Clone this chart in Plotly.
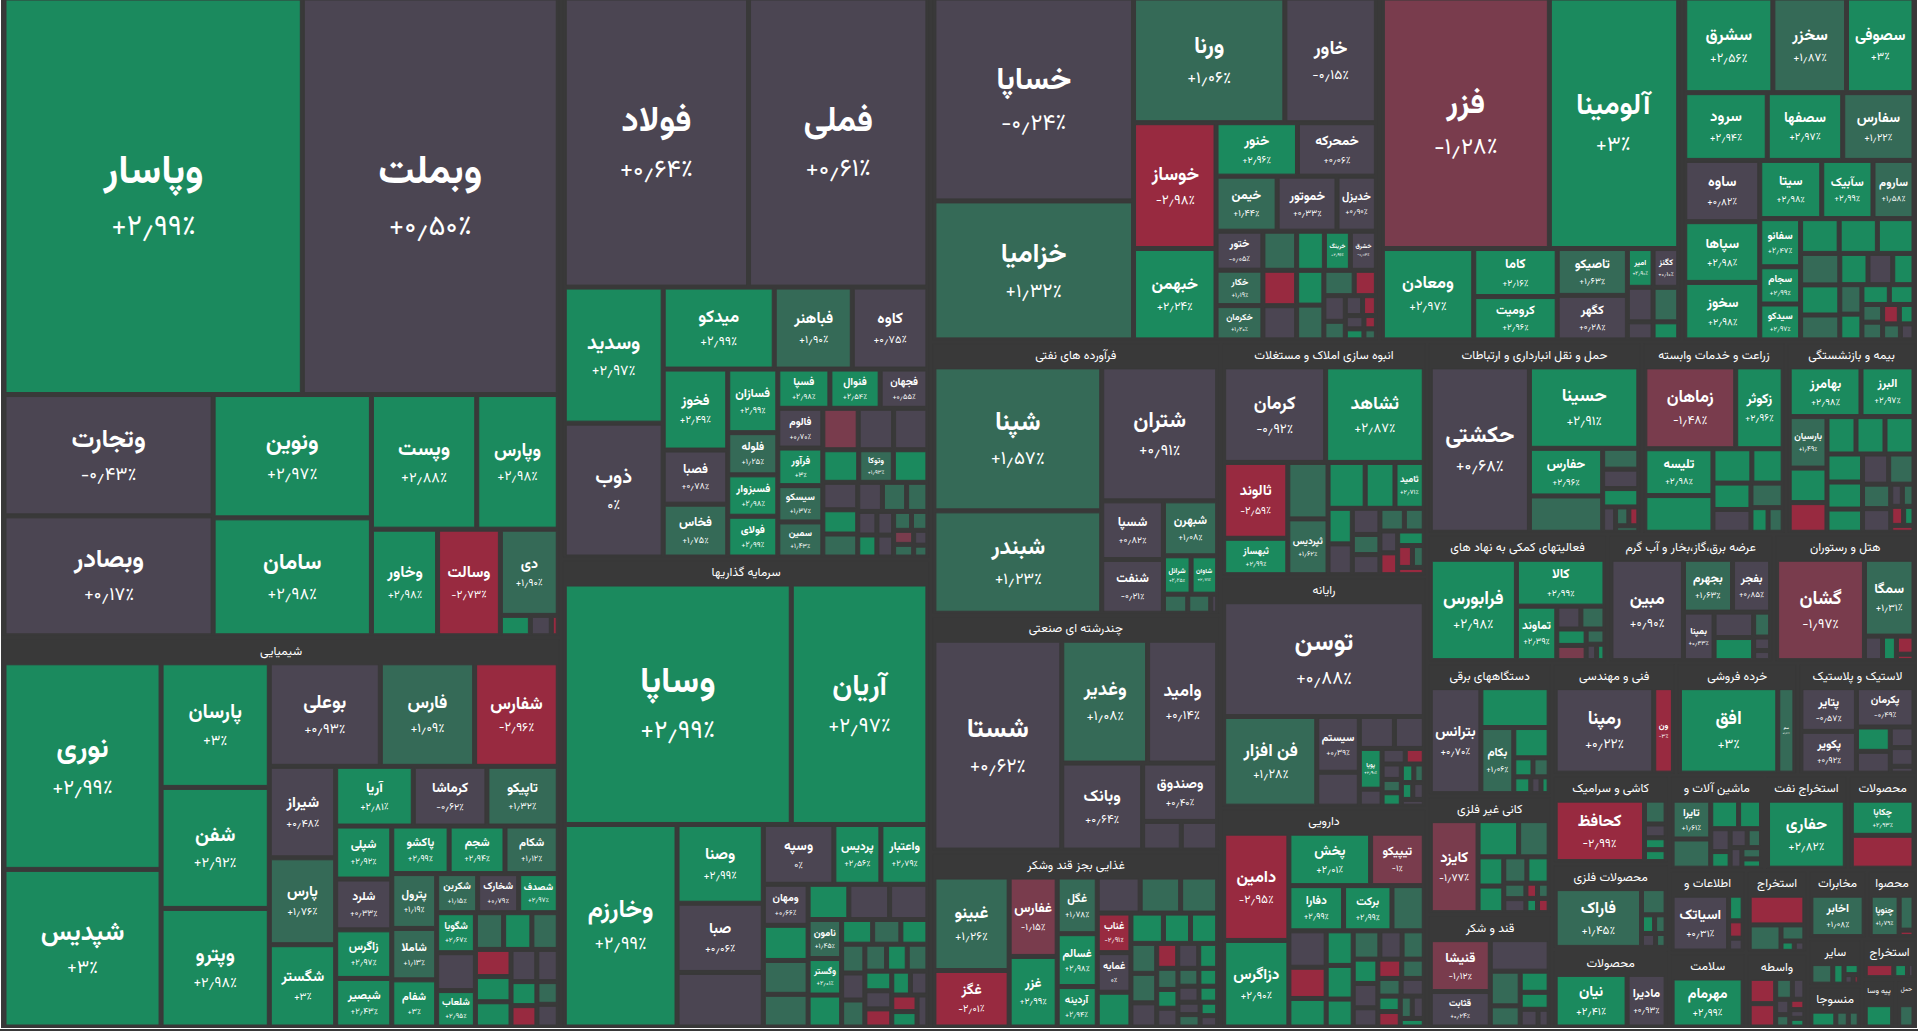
import math
import plotly.graph_objects as go

# colour classes for tiles whose name/percent is not readable (value estimated from colour)
G, MG, N, MR, R = 2.9, 1.5, 0.3, -1.5, -2.9

BANKS = [
    ("وپاسار", 830, 2.99), ("وبملت", 712, 0.50), ("وتجارت", 178, -0.43), ("وبصادر", 176, 0.17),
    ("ونوین", 137, 2.97), ("سامان", 131, 2.98), ("وپست", 99.5, 2.88), ("وپارس", 77, 2.98),
    ("وخاور", 49.5, 2.98), ("وسالت", 47, -2.73), ("دی", 35, 1.90),
    ("", 4.3, G), ("", 3.0, N), ("", 1.0, R),
]
CHEM = [
    ("نوری", 234.6, 2.99), ("شپدیس", 179, 3.00), ("پارسان", 97.5, 3.00), ("شفن", 94.7, 2.92), ("وپترو", 92.8, 2.98),
    ("بوعلی", 83.1, 0.93), ("فارس", 70.6, 1.09), ("شفارس", 62.6, -2.96), ("شیراز", 43.9, 0.48), ("پارس", 41.7, 1.76),
    ("شگستر", 39.5, 3.00), ("آریا", 33.5, 2.81), ("کرماشا", 31.8, -0.62), ("تاپیکو", 30.8, 1.32), ("شپلی", 21.5, 2.92),
    ("شلرد", 20.6, 0.33), ("زاگرس", 19.7, 2.97), ("شبصیر", 19.7, 2.43), ("پاکشو", 19.7, 2.99), ("شجم", 19.2, 2.94),
    ("شکام", 18.3, 1.12), ("پترول", 17.8, 1.19), ("شاملا", 16.7, 1.13), ("شفام", 15.3, 3.00), ("شکربن", 11.6, 1.15),
    ("شخارک", 11.6, 0.79), ("شصدف", 11.2, 2.97), ("شگویا", 11.2, 2.67), ("", 10.6, N), ("شلعاب", 10.2, 2.95),
    ("", 7.5, MG), ("", 7.5, G), ("", 7.0, MG), ("", 7.0, R), ("", 6.5, G), ("", 6.5, G),
    ("", 6.0, N), ("", 5.0, N), ("", 4.5, G), ("", 4.0, R), ("", 3.5, MG), ("", 3.5, N),
]
METALS = [
    ("فولاد", 378, 0.64), ("فملی", 368, 0.61), ("وسدید", 95.5, 2.97), ("ذوب", 94, 0.00), ("میدکو", 64.6, 2.99),
    ("فباهنر", 45.4, 1.90), ("کاوه", 44, 0.75), ("فخوز", 37.1, 2.49), ("فصبا", 24.8, 0.78), ("فخاس", 24.2, 1.75),
    ("فسازان", 22.6, 2.99), ("فلوله", 15, 1.25), ("فسبزوار", 14.7, 2.98), ("فولای", 14.5, 2.99), ("فسپا", 14.5, 2.98),
    ("فنوال", 14, 2.54), ("فجهان", 13.3, 0.55), ("فالوم", 12.7, 0.70), ("فرآور", 12, 3.00), ("سیسکو", 11.6, 1.37),
    ("سمین", 11.2, 1.43), ("", 10.4, MR), ("", 10.4, N), ("", 10.1, N), ("وتوکا", 8.0, 1.93), ("", 8.3, G), ("", 8.0, G),
    ("", 6.8, N), ("", 6.0, G), ("", 5.7, MG), ("", 5.1, N), ("", 5.0, MG), ("", 4.4, MG),
    ("", 3.2, N), ("", 3.0, G), ("", 2.8, N), ("", 2.6, N), ("", 2.4, MG), ("", 2.2, MG), ("", 2.0, MR),
    ("", 1.8, MG), ("", 1.5, N), ("", 1.2, MG),
]
INVEST = [
    ("وساپا", 392, 2.99), ("آریان", 236, 2.97), ("وخارزم", 164, 2.99), ("وصنا", 48.8, 2.99), ("صبا", 42.9, 0.06),
    ("", 33.8, N), ("وسپه", 30.3, 0.00), ("پردیس", 20.2, 2.56), ("واعتبار", 20.2, 2.79), ("ومهان", 13.2, 0.66),
    ("", 11.3, G), ("", 10.9, MG), ("", 10.5, MG), ("", 10.3, G), ("", 10.3, N), ("", 9.7, N), ("نامون", 9.4, 1.45),
    ("وگستر", 8.8, 2.01), ("", 7.7, G), ("", 5.5, G), ("", 4.8, G), ("", 4.8, MG), ("", 5.0, MG), ("", 4.5, N),
    ("", 4.5, MG), ("", 4.2, MG), ("", 4.0, G), ("", 4.0, MG), ("", 3.8, G), ("", 3.5, N), ("", 3.5, R), ("", 3.2, G),
    ("", 3.0, N), ("", 3.0, R), ("", 2.8, G), ("", 2.5, N),
]
AUTO = [
    ("خساپا", 295, -0.24), ("خزامیا", 202, 1.32), ("ورنا", 137.4, 1.06), ("خاور", 83.1, -0.15), ("خوساز", 75.6, -2.98),
    ("خبهمن", 54.9, 2.24), ("خنور", 31.7, 2.96), ("خمحرکه", 30.7, 0.06), ("خیمن", 24.5, 1.44), ("خموتور", 24, 0.33),
    ("خدیزل", 15.8, 0.90), ("ختور", 13.3, -0.05), ("خکار", 12.1, 1.19), ("خکرمان", 11.7, 1.20), ("", 9.6, MG),
    ("", 8.7, R), ("", 8.4, N), ("", 7.9, G), ("خرینگ", 7.4, 2.96), ("خشرق", 7.4, -0.04), ("", 6.9, G), ("", 6.9, MG),
    ("", 5.6, MG), ("", 4.1, R), ("", 4.0, N), ("", 2.9, MG), ("", 2.5, N), ("", 2.0, R), ("", 1.8, N), ("", 1.5, G),
    ("", 1.2, R), ("", 1.0, MG),
]
MINING = [
    ("فزر", 306.7, -1.28), ("آلومینا", 237.6, 3.00), ("ومعادن", 61.2, 2.97), ("کاما", 29.4, 2.16), ("کرومیت", 26.5, 2.96),
    ("تاصیکو", 24.1, 1.63), ("کگهر", 22.9, 0.28), ("امیر", 7.3, 2.90), ("کگنز", 7.3, 0.10), ("", 6.5, N), ("", 6.5, MG),
    ("", 3.4, N), ("", 3.4, G),
]
CEMENT = [
    ("سشرق", 61.5, 2.56), ("سخزر", 51.4, 1.87), ("سصوفی", 47.1, 3.00), ("سرود", 41.2, 2.94), ("سصفها", 37.7, 2.97),
    ("سفارس", 35.6, 1.22), ("ساوه", 33.9, 0.82), ("سپاها", 33.6, 2.98), ("سخوز", 31.8, 2.98), ("سیتا", 26.6, 2.98),
    ("سآبیک", 22.0, 2.99), ("ساروم", 17.6, 1.58), ("سفانو", 14.5, 2.47), ("سجام", 11.2, 2.99), ("سیدکو", 10.8, 2.97),
    ("", 9.9, G), ("", 9.8, G), ("", 9.4, G), ("", 9.1, MG), ("", 8.7, G), ("", 7.2, MG), ("", 6.5, G), ("", 5.7, N),
    ("", 4.9, G), ("", 4.8, MG), ("", 4.2, G), ("", 4.0, G), ("", 3.6, G), ("", 2.7, MG), ("", 2.7, MG), ("", 2.4, R),
    ("", 2.1, G), ("", 2.1, MG), ("", 1.6, N),
]
PETRO = [
    ("شپنا", 182.3, 1.57), ("شبندر", 129.6, 1.23), ("شتران", 117.2, 0.91), ("شسپا", 27.3, 0.82), ("شنفت", 25, -0.21),
    ("شبهرن", 22.5, 1.08), ("شرانل", 8, 2.25), ("شاوان", 7.7, 2.71), ("", 3.5, MG), ("", 3.3, MG), ("", 1.0, N),
]
MULTI = [
    ("شستا", 205.9, 0.62), ("وغدیر", 80.9, 1.08), ("وامید", 66.1, 0.14), ("وبانک", 54, 0.64), ("وصندوق", 33.6, 0.40),
    ("", 8.5, N), ("", 8.0, N),
]
FOOD = [
    ("غبینو", 56.4, 1.26), ("غگز", 34.1, -2.01), ("غفارس", 30.6, -1.15), ("غزر", 27.2, 2.99), ("غگل", 18.2, 1.78),
    ("غسالم", 17.0, 2.98), ("آردینه", 13.0, 2.94), ("", 12.4, N), ("", 11.7, MG), ("", 10.7, MG), ("غناب", 10.7, -2.91),
    ("غمایه", 10.7, 0.00), ("", 9.4, G), ("", 7.9, G), ("", 6.6, G), ("", 6.6, G), ("", 6.2, MG), ("", 6.1, MG), ("", 5.0, N),
    ("", 4.2, R), ("", 4.2, N), ("", 3.8, G), ("", 3.6, MG), ("", 3.2, G), ("", 3.2, N), ("", 3.0, MG), ("", 2.7, G),
    ("", 2.7, N), ("", 2.4, G), ("", 2.2, N), ("", 2.2, MG), ("", 1.9, G), ("", 1.6, N),
]
REALTY = [
    ("کرمان", 75.5, -0.92), ("ثشاهد", 73.0, 2.87), ("ثالوند", 37.7, -2.59), ("ثبهساز", 18.1, 2.99), ("", 17.6, MG),
    ("ثپردیس", 17.4, 1.62), ("", 13.2, G), ("", 10.6, G), ("ثامید", 10.4, 2.71), ("", 6.7, G), ("", 5.8, N), ("", 5.6, N),
    ("", 4.3, MG), ("", 4.3, N), ("", 4.3, MG), ("", 3.5, MG), ("", 3.0, N), ("", 3.0, R), ("", 3.0, G), ("", 2.5, R),
    ("", 2.0, MG), ("", 1.5, R),
]
COMPUTER = [
    ("توسن", 178.8, 0.88), ("فن افزار", 64.8, 1.28), ("سیستم", 18.4, 0.39), ("", 11.2, N), ("", 8.7, N), ("", 7.4, N),
    ("پویا", 7.2, 2.90), ("", 3.0, N), ("", 2.8, N), ("", 2.3, R), ("", 2.3, N), ("", 2.0, MG), ("", 2.0, G),
    ("", 1.8, G), ("", 1.5, MG), ("", 1.5, G), ("", 1.5, N), ("", 1.2, N),
]
PHARMA = [
    ("دامین", 54.7, -2.95), ("دزاگرس", 44.1, 2.90), ("پخش", 33.5, 2.01), ("تیپیکو", 22.0, -1.00), ("دفارا", 19.3, 2.99),
    ("برکت", 17.1, 2.99), ("", 11.4, MG), ("", 10.6, N), ("", 9.1, R), ("", 8.3, G), ("", 7.3, G), ("", 7.1, G), ("", 5.9, G),
    ("", 5.9, MG), ("", 4.9, N), ("", 4.9, MG), ("", 4.7, G), ("", 4.7, N), ("", 3.7, N), ("", 3.6, R), ("", 3.4, MG),
    ("", 3.2, MG), ("", 3.2, N), ("", 2.7, G), ("", 2.7, R), ("", 2.1, MG), ("", 2.1, N), ("", 1.6, G),
]
TRANSPORT = [
    ("حکشتی", 130.7, 0.68), ("حسینا", 71, 2.91), ("حفارس", 27.8, 2.96), ("", 21.2, MG), ("", 6.0, MG), ("", 5.6, N),
    ("", 5.3, G), ("", 2.6, N), ("", 2.0, MG), ("", 1.5, R), ("", 1.2, MG),
]
AGRI = [
    ("زماهان", 60.1, -1.48), ("زکوثر", 31.4, 2.96), ("تلیسه", 25.8, 2.98), ("", 20.2, G), ("", 10.8, G), ("", 8.7, G),
    ("", 8.1, G), ("", 7.0, N), ("", 6.4, MG), ("", 3.4, G), ("", 3.0, MG),
]
INSURANCE = [
    ("بهامرز", 29.0, 2.98), ("البرز", 21.4, 2.97), ("بارسیان", 15.8, 1.49), ("", 10.6, G), ("", 9.1, R), ("", 8.8, G),
    ("", 8.8, G), ("", 8.8, G), ("", 8.1, G), ("", 7.8, G), ("", 6.7, G), ("", 6.4, N), ("", 6.2, MG), ("", 5.6, MG),
    ("", 5.4, N), ("", 2.1, N), ("", 2.1, MG), ("", 2.0, R), ("", 1.6, G), ("", 1.3, R),
]
AUXFIN = [
    ("فرابورس", 76.2, 2.98), ("کالا", 36.2, 2.99), ("تماوند", 19.2, 2.39), ("", 4.8, N), ("", 4.8, MG), ("", 4.2, G),
    ("", 3.9, MR), ("", 2.5, MG), ("", 1.5, N), ("", 1.2, G),
]
POWER = [
    ("مبین", 64.3, 0.90), ("بجهرم", 22.7, 1.63), ("بفجر", 17.6, 0.85), ("بمپنا", 13, 0.43), ("", 8.8, N), ("", 8.0, G),
    ("", 3.7, MG), ("", 2.0, N), ("", 1.5, N),
]
HOTEL = [("گشان", 78.4, -1.97), ("سمگا", 33.5, 1.31), ("", 3.9, N), ("", 3.0, G), ("", 2.8, R), ("", 1.0, R)]
ELEC = [("بترانس", 47.1, 0.70), ("", 23.9, G), ("بکام", 19.1, 1.06), ("", 9.4, G), ("", 3.2, G), ("", 2.7, MG),
        ("", 2.5, G), ("", 1.5, N), ("", 1.2, G)]
ENG = [("رمپنا", 77.6, 0.22), ("ون", 15.5, -3.00)]
RETAIL = [("افق", 77.5, 3.00), ("سم", 13.5, 1.40)]
RUBBER = [("پتایر", 22.4, -0.57), ("پکویر", 21.4, 0.92), ("پکرمان", 20.9, -0.49), ("", 7.6, G), ("", 6.8, N),
          ("", 4.5, N), ("", 4.1, N), ("", 1.5, N)]
NONMET = [("کایزد", 39.8, -1.77), ("", 13.3, G), ("", 10.0, MG), ("", 6.8, G), ("", 6.2, G), ("", 5.5, MG),
          ("", 5.3, G), ("", 3.1, MG), ("", 2.8, N), ("", 1.6, R), ("", 1.6, MG), ("", 1.5, G), ("", 1.5, R)]
SUGAR = [("قنیشا", 28.5, -1.12), ("قثابت", 19.5, 0.24), ("", 17.0, N), ("", 9.5, MG), ("", 5.8, MG), ("", 5.6, G),
         ("", 4.5, G), ("", 2.9, N), ("", 1.8, N)]
TILES = [("کحافظ", 55.5, -2.99), ("", 5.2, MG), ("", 3.0, N), ("", 2.6, G), ("", 2.6, G)]
METALPROD = [("فاراک", 52.0, 1.45), ("", 6.6, MG), ("", 2.5, G), ("", 2.2, MG), ("", 2.0, N), ("", 1.5, MG)]
PROD_B = [("نیان", 40.2, 2.41), ("مادیرا", 21.8, 0.93)]
MACH = [("تایرا", 14.9, 1.61), ("", 11.2, MG), ("", 7.9, G), ("", 6.5, G), ("", 4.4, N), ("", 3.2, G), ("", 3.2, N),
        ("", 2.7, MG), ("", 2.4, N), ("", 2.2, MG), ("", 1.8, G)]
OILX = [("حفاری", 53, 2.82)]
PAPER = [("چکاپا", 22.5, 2.93), ("", 21.0, R)]
INFO = [("اسیاتک", 33.8, 0.31), ("", 4.0, G), ("", 2.7, R), ("", 2.0, N)]
EXTR = [("", 18.1, R), ("", 9.2, MG), ("", 4.2, MG), ("", 1.5, G), ("", 1.2, N)]
TELECOM = [("اخابر", 27.0, 1.08)]
PROD_C = [("چنوپا", 15.0, 1.79), ("", 6.5, MG), ("", 1.2, R)]
HEALTH = [("مهرمام", 39.0, 2.99)]
BROKER = [("", 7.7, R), ("", 7.1, R), ("", 4.0, MG), ("", 3.0, N), ("", 2.5, N), ("", 2.0, MG), ("", 1.8, R),
          ("", 1.5, N), ("", 1.5, G)]
OTHER = [("", 7.8, MG), ("", 4.0, G), ("", 2.9, G), ("", 1.5, N), ("", 1.0, R)]
TEXTILE = [("", 8.0, G), ("", 4.0, MG), ("", 3.5, MG)]
EXTR2 = [("", 8.8, R), ("", 4.2, G), ("", 2.0, N)]
MISC = [("", 11.0, G)]
TRANS2 = [("", 7.0, MG)]

SECTORS = [
    ("بانکها", BANKS), ("شیمیایی", CHEM), ("فلزات اساسی", METALS), ("سرمایه گذاریها", INVEST), ("خودرو", AUTO),
    ("کانه های فلزی", MINING), ("سیمان", CEMENT), ("فرآورده های نفتی", PETRO), ("چندرشته ای صنعتی", MULTI),
    ("غذایی بجز قند وشکر", FOOD), ("انبوه سازی املاک و مستغلات", REALTY), ("رایانه", COMPUTER), ("دارویی", PHARMA),
    ("حمل و نقل انبارداری و ارتباطات", TRANSPORT), ("زراعت و خدمات وابسته", AGRI), ("بیمه و بازنشستگی", INSURANCE),
    ("فعالیتهای کمکی به نهاد های", AUXFIN), ("عرضه برق،گاز،بخار و آب گرم", POWER), ("هتل و رستوران", HOTEL),
    ("دستگاههای برقی", ELEC), ("فنی و مهندسی", ENG), ("خرده فروشی", RETAIL), ("لاستیک و پلاستیک", RUBBER),
    ("کانی غیر فلزی", NONMET), ("قند و شکر", SUGAR), ("کاشی و سرامیک", TILES), ("محصولات فلزی", METALPROD),
    ("محصولات", PROD_B), ("ماشین آلات و", MACH), ("استخراج نفت", OILX), ("محصولات", PAPER), ("اطلاعات و", INFO),
    ("استخراج", EXTR), ("مخابرات", TELECOM), ("محصوا", PROD_C), ("سلامت", HEALTH), ("واسطه", BROKER),
    ("سایر", OTHER), ("منسوجا", TEXTILE), ("استخراج", EXTR2), ("پیه وسا", MISC), ("حمل", TRANS2),
]
# sectors of the first (top) row: their headers lie above the visible frame in the reference
OFFSCREEN_HEADERS = {"بانکها", "فلزات اساسی", "خودرو", "کانه های فلزی", "سیمان"}

BG = "#393939"
FONT = "Vazirmatn, Vazir, 'Noto Sans Arabic', 'DejaVu Sans', sans-serif"
FA = str.maketrans("0123456789.", "۰۱۲۳۴۵۶۷۸۹٫")
PAD_T, PAD_SIDE, PAD_B = 25, 3, 2
SHIFT = 2 * PAD_T
FIG_H = 1031 + SHIFT - 2


def fa_pct(x):
    if abs(x) < 1e-9:
        return "۰٪"
    s = f"{abs(x):.2f}"
    if s.endswith(".00"):
        s = s[:-3]
    return ("+" if x > 0 else "-") + s.translate(FA) + "٪"


def tile_color(c):
    if c >= 2:
        return "#1b8a5e"
    if c >= 1:
        return "#356a57"
    if c > -1:
        return "#4b4552"
    if c > -2:
        return "#793c4d"
    return "#982a40"


ids, labels, parents, values, colors, texts, sizes = [], [], [], [], [], [], []
ids.append("root"); labels.append("بازار"); parents.append(""); values.append(0)
colors.append(BG); texts.append(""); sizes.append(12)
for i, (sname, rows) in enumerate(SECTORS):
    sid = f"s{i}"
    ids.append(sid); labels.append(sname); parents.append("root"); values.append(0)
    colors.append(BG)
    texts.append("" if sname in OFFSCREEN_HEADERS else f"<b>{sname}</b>")
    sizes.append(18)
    for j, (name, v, ch) in enumerate(rows):
        ids.append(f"{sid}_{j}"); labels.append(name if name else " "); parents.append(sid)
        values.append(v); colors.append(tile_color(ch))
        if name:
            side = math.sqrt(v * 140)
            fs = max(8, min(40, 5 + 0.13 * side))
            texts.append(f"<b>{name}</b><br><span style='font-size:{fs * 0.72:.1f}px'>{fa_pct(ch)}</span>")
            sizes.append(round(fs, 1))
        else:
            texts.append("")
            sizes.append(8)

fig = go.Figure(go.Treemap(
    ids=ids, labels=labels, parents=parents, values=values,
    branchvalues="remainder", sort=True,
    text=texts, texttemplate="%{text}", textposition="middle center",
    textfont=dict(family=FONT, size=sizes, color="#ffffff"),
    marker=dict(colors=colors, line=dict(width=1, color=BG),
                pad=dict(t=PAD_T, l=PAD_SIDE, r=PAD_SIDE, b=PAD_B), depthfade=False),
    tiling=dict(packing="squarify", squarifyratio=1, pad=4),
    pathbar=dict(visible=False),
    hoverinfo="none",
))
fig.update_layout(
    width=1918, height=FIG_H,
    margin=dict(l=0, r=0, t=0, b=0),
    paper_bgcolor=BG, plot_bgcolor=BG,
    font=dict(family=FONT, color="#ffffff"),
    showlegend=False,
)

# the top band (root + first-row headers) sits above the window, as in the reference;
# header texts that end up completely outside the window (or are empty) are dropped
JS = """
var gd = document.getElementById('{plot_id}');
document.documentElement.style.margin = '0';
document.body.style.margin = '0';
document.documentElement.style.overflow = 'hidden';
document.body.style.overflow = 'hidden';
document.documentElement.style.background = '#393939';
document.body.style.background = '#393939';
gd.style.position = 'absolute';
gd.style.left = '0px';
gd.style.top = '-%dpx';
var ts = gd.querySelectorAll('text');
for (var k = 0; k < ts.length; k++) {
    var t = ts[k];
    var r = t.getBoundingClientRect();
    if (!t.textContent.trim() || r.bottom <= 2) { t.parentNode.removeChild(t); }
}
""" % SHIFT

fig.write_html("out.html", post_script=JS, config={"displayModeBar": False})
